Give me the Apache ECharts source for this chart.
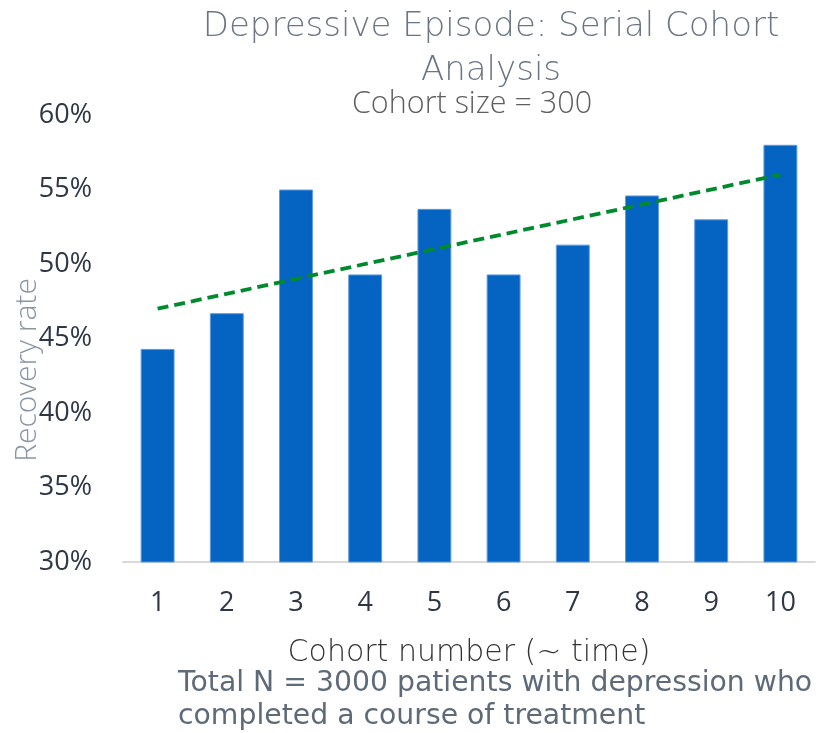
<!DOCTYPE html>
<html>
<head>
<meta charset="utf-8">
<script src="https://cdn.jsdelivr.net/npm/echarts@6/dist/echarts.min.js"></script>
<style>
  html, body { margin: 0; padding: 0; background: #ffffff; }
  #chart { width: 826px; height: 733px; }
</style>
</head>
<body>
<div id="chart"></div>
<script>
const categories = ['1', '2', '3', '4', '5', '6', '7', '8', '9', '10'];
const recoveryRate = [44.3, 46.7, 55.0, 49.3, 53.7, 49.3, 51.3, 54.6, 53.0, 58.0];
const trendPoints = [['1', 47.0], ['10', 56.0]];
const yTicks = { min: 30, max: 60, interval: 5 };
const titleText = 'Depressive Episode: Serial Cohort\nAnalysis';
const subtitleText = 'Cohort size = 300';
const xAxisName = 'Cohort number (~ time)';
const yAxisName = 'Recovery rate';
const footerLines = ['Total N = 3000 patients with depression who', 'completed a course of treatment'];

const OPEN = '"Open Sans", "Noto Sans", sans-serif';
const DEJA = '"DejaVu Sans", sans-serif';
const chart = echarts.init(document.getElementById('chart'), null, { renderer: 'canvas' });

chart.setOption({
  animation: false,
  backgroundColor: '#ffffff',
  title: [
    {
      text: titleText,
      left: 486, top: 0, textAlign: 'center',
      textStyle: { fontFamily: DEJA, fontSize: 34, fontWeight: 200, color: '#6b7584', lineHeight: 44 }
    },
    {
      text: subtitleText,
      left: 467, top: 84, textAlign: 'center',
      textStyle: { fontFamily: OPEN, fontSize: 30.5, fontWeight: 300, color: '#5f5f5f', lineHeight: 31 }
    }
  ],
  grid: { left: 123, right: 11, top: 115, bottom: 171, containLabel: false },
  xAxis: {
    type: 'category',
    data: categories,
    name: xAxisName,
    nameLocation: 'middle',
    nameGap: 76,
    nameTextStyle: { fontFamily: DEJA, fontSize: 30, fontWeight: 200, color: '#333333' },
    axisLine: { show: true, lineStyle: { color: '#d9d9d9', width: 2 } },
    axisTick: { show: false },
    axisLabel: { fontFamily: OPEN, fontSize: 27, color: '#2f3645', margin: 28 }
  },
  yAxis: {
    type: 'value',
    min: yTicks.min, max: yTicks.max, interval: yTicks.interval,
    axisLine: { show: false },
    axisTick: { show: false },
    splitLine: { show: false },
    axisLabel: { formatter: '{value}%', fontFamily: OPEN, fontSize: 27, color: '#2f3645', margin: 31 }
  },
  series: [
    {
      type: 'bar',
      data: recoveryRate,
      barWidth: '49%',
      itemStyle: { color: '#0563c1', borderColor: '#5e9be0', borderWidth: 1 },
      z: 2
    },
    {
      type: 'line',
      data: trendPoints,
      symbol: 'none',
      lineStyle: { color: '#008a2e', width: 3.8, type: [11, 6] },
      z: 3
    }
  ],
  graphic: [
    {
      type: 'text',
      x: 27, y: 370,
      rotation: Math.PI / 2,
      style: {
        text: yAxisName,
        fontFamily: OPEN, fontSize: 30, fontWeight: 300, fill: '#8995a6',
        align: 'center', verticalAlign: 'middle'
      }
    },
    {
      type: 'text',
      left: 178, top: 667,
      style: {
        text: footerLines.join('\n'),
        fontFamily: DEJA, fontSize: 28.3, fill: '#5f6a79', lineHeight: 33
      }
    }
  ]
});
</script>
</body>
</html>
